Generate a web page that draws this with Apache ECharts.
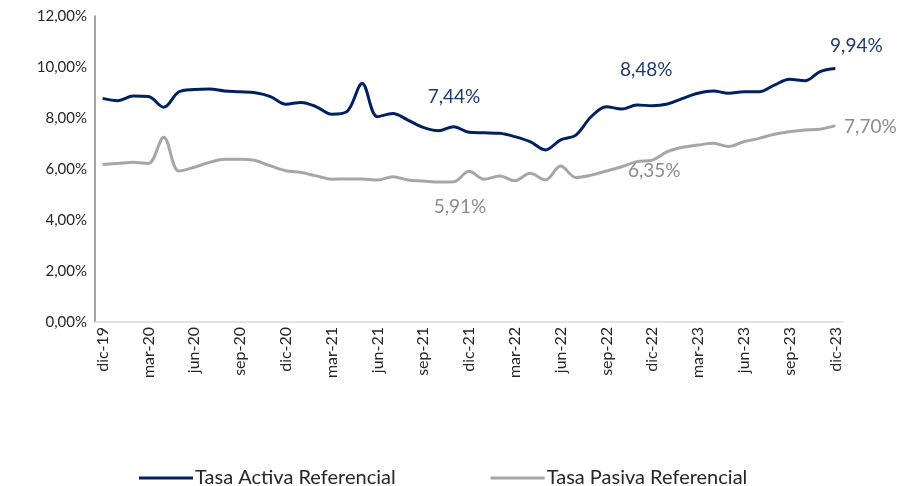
<!DOCTYPE html>
<html>
<head>
    <meta charset="utf-8">
    <title>Tasas Referenciales</title>
    <script src="https://cdn.jsdelivr.net/npm/echarts@6/dist/echarts.min.js"></script>
    <style>
        body { margin: 0; background: #fff; }
    </style>
</head>
<body>
<div id="main" style="width: 899px;height:486px;"></div>
<script type="text/javascript">
    // meses dic-19 .. dic-23
    var meses = ['dic-19',
        'ene-20', 'feb-20', 'mar-20', 'abr-20', 'may-20', 'jun-20', 'jul-20', 'ago-20', 'sep-20', 'oct-20', 'nov-20', 'dic-20',
        'ene-21', 'feb-21', 'mar-21', 'abr-21', 'may-21', 'jun-21', 'jul-21', 'ago-21', 'sep-21', 'oct-21', 'nov-21', 'dic-21',
        'ene-22', 'feb-22', 'mar-22', 'abr-22', 'may-22', 'jun-22', 'jul-22', 'ago-22', 'sep-22', 'oct-22', 'nov-22', 'dic-22',
        'ene-23', 'feb-23', 'mar-23', 'abr-23', 'may-23', 'jun-23', 'jul-23', 'ago-23', 'sep-23', 'oct-23', 'nov-23', 'dic-23'];

    var tasaActiva = [8.77,
        8.68, 8.86, 8.84, 8.42, 9.03, 9.12, 9.14, 9.06, 9.03, 8.99, 8.84, 8.54,
        8.61, 8.44, 8.15, 8.25, 9.35, 8.05, 8.18, 7.92, 7.63, 7.50, 7.66, 7.44,
        7.42, 7.40, 7.27, 7.07, 6.75, 7.14, 7.33, 8.05, 8.44, 8.35, 8.51, 8.48,
        8.55, 8.77, 8.97, 9.06, 8.97, 9.03, 9.03, 9.29, 9.52, 9.46, 9.82, 9.94];

    var tasaPasiva = [6.18,
        6.22, 6.26, 6.22, 7.25, 5.92, 6.07, 6.26, 6.38, 6.38, 6.33, 6.12, 5.93,
        5.86, 5.73, 5.60, 5.61, 5.61, 5.57, 5.70, 5.57, 5.53, 5.49, 5.50, 5.91,
        5.60, 5.73, 5.54, 5.83, 5.57, 6.12, 5.67, 5.76, 5.92, 6.09, 6.29, 6.35,
        6.68, 6.85, 6.94, 7.01, 6.88, 7.07, 7.20, 7.36, 7.46, 7.53, 7.56, 7.70];

    // puntos con etiqueta: indice -> desplazamiento de la etiqueta
    var etiquetasActiva = {24: [-15, -35], 36: [-6, -36], 48: [21, -23]};
    var etiquetasPasiva = {24: [-9, 36], 36: [2, 11], 48: [35, 1]};

    function fmt(v) {
        return v.toFixed(2).replace('.', ',') + '%';
    }

    function buildData(values, etiquetas, color) {
        return values.map(function (v, i) {
            if (etiquetas[i]) {
                return {
                    value: v,
                    label: {
                        show: true,
                        position: 'inside',
                        offset: etiquetas[i],
                        formatter: function (p) { return fmt(p.value); },
                        color: color,
                        fontSize: 19,
                        fontFamily: 'Lato'
                    }
                };
            }
            return v;
        });
    }

    var myChart = echarts.init(document.getElementById('main'), null, {renderer: 'canvas'});

    var option = {
        animation: false,
        textStyle: {fontFamily: 'Lato'},
        grid: {
            left: 95,
            right: 56,
            top: 16,
            bottom: 164
        },
        legend: {
            left: 134,
            top: 463,
            itemWidth: 54,
            itemHeight: 3,
            itemGap: 95,
            icon: 'rect',
            textStyle: {fontSize: 20, color: '#262626', fontFamily: 'Lato', padding: [0, 0, 0, -3]},
            data: ['Tasa Activa Referencial', 'Tasa Pasiva Referencial']
        },
        xAxis: {
            type: 'category',
            boundaryGap: true,
            data: meses,
            axisLine: {lineStyle: {color: '#d9d9d9', width: 1.5}},
            axisTick: {show: false},
            axisLabel: {
                rotate: 90,
                interval: 2,
                color: '#262626',
                fontSize: 16,
                margin: 5
            },
            splitLine: {show: false}
        },
        yAxis: {
            type: 'value',
            min: 0,
            max: 12,
            interval: 2,
            axisLine: {show: true, lineStyle: {color: '#868686', width: 1.5}},
            axisTick: {show: false},
            axisLabel: {
                color: '#262626',
                fontSize: 15,
                margin: 8,
                formatter: function (v) { return fmt(v); }
            },
            splitLine: {show: false}
        },
        series: [
            {
                name: 'Tasa Activa Referencial',
                type: 'line',
                smooth: 0.35,
                symbol: 'circle',
                symbolSize: 0,
                showSymbol: true,
                showAllSymbol: true,
                itemStyle: {color: '#002060'},
                lineStyle: {color: '#002060', width: 3},
                data: buildData(tasaActiva, etiquetasActiva, '#1f3a6e')
            },
            {
                name: 'Tasa Pasiva Referencial',
                type: 'line',
                smooth: 0.35,
                symbol: 'circle',
                symbolSize: 0,
                showSymbol: true,
                showAllSymbol: true,
                itemStyle: {color: '#a6a6a6'},
                lineStyle: {color: '#a6a6a6', width: 3},
                data: buildData(tasaPasiva, etiquetasPasiva, '#8c8c8c')
            }
        ]
    };

    myChart.setOption(option);
</script>
</body>
</html>
